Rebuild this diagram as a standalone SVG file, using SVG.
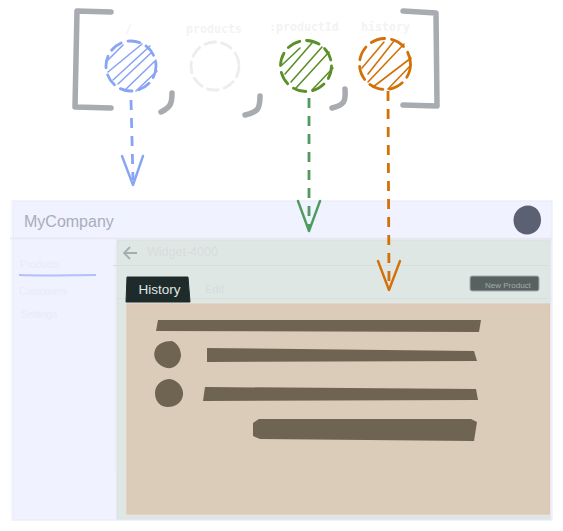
<svg xmlns="http://www.w3.org/2000/svg" width="563" height="531" viewBox="0 0 563 531">
<style>
text{font-family:"Liberation Sans",Arial,sans-serif}
.mono{font-family:"DejaVu Sans Mono","Liberation Mono",monospace;font-size:11.600px;fill:#f3f3f3;font-weight:bold}
.br{fill:none;stroke:#a8abb0;stroke-width:5.500;stroke-linecap:round;stroke-linejoin:round}
.dash{fill:none;stroke-width:2.800;stroke-dasharray:10 8}
.head{fill:none;stroke-width:2.400;stroke-linecap:round;stroke-linejoin:round}
.ring{fill:none;stroke-width:2.800;stroke-linecap:round}
.hatch{fill:none;stroke-width:1.600;stroke-linecap:round}
.blue{stroke:#88a4f4}.green{stroke:#4f9a5e}.lime{stroke:#5b8f2a}.orange{stroke:#d27108}
.nav{font-size:10px;fill:#e8eaf8}
.bar{fill:#6f6351}
</style>
<g id="window">
<rect x="10" y="200" width="542" height="321" fill="#fafafd"/>
<rect x="13" y="201" width="539" height="319" fill="#f0f2ff" stroke="#e8eaf8" stroke-width="1"/>
<path d="M10 238.500H552" stroke="#e6e8f0" stroke-width="1.500"/>
<text x="24" y="226.500" font-size="16" fill="#a9adbb">MyCompany</text>
<path d="M513.500 220C513.500 212 520 205.500 528 205.500C536 205.500 541 212 541 220C541 228 535 234.500 527 234.500C519 234.500 513.500 228 513.500 220Z" fill="#5b6172"/>
</g>
<g id="sidebar">
<path d="M115 245V472" stroke="#eceef8" stroke-width="1.500"/>
<text x="20" y="268" class="nav">Products</text>
<path d="M19 275C45 276 70 275 96 275" stroke="#b4c0f8" stroke-width="2" fill="none"/>
<text x="19" y="295" class="nav">Customers</text>
<text x="21" y="318" class="nav">Settings</text>
</g>
<g id="main">
<rect x="117" y="240" width="433" height="279" fill="#dfe7e5" stroke="#d8e2df"/>
<path d="M113 265.500H548M117 298.500H548" stroke="#d6dfdc" stroke-width="1.200"/>
<path d="M137 253H124M130 247L124 253L130 259" fill="none" stroke="#a6adb0" stroke-width="1.800"/>
<text x="147" y="256" font-size="12.500" fill="#d5dcdc">Widget-4000</text>
<path d="M127 277L188 277L190 302L126 302Z" fill="#1f2a2a" stroke="#1f2a2a"/>
<text x="138.500" y="294" font-size="13.500" fill="#dfe6e6">History</text>
<text x="205" y="293" font-size="11" fill="#d5dcdc">Edit</text>
<rect x="470" y="276" width="69" height="15" rx="2" fill="#566160" stroke="#a4acb0" stroke-width="1"/>
<text x="485" y="288" font-size="8" fill="#a4adad">New Product</text>
</g>
<g id="content">
<rect x="127" y="304" width="422.500" height="210" fill="#dbccb9" stroke="#e6c3ab"/>
<path class="bar" d="M158 320L481 320L479 332L156 331Z"/>
<path class="bar" d="M207 348L474 351L477 361L207 362Z"/>
<path class="bar" d="M205 387L476 389L478 400L203 401Z"/>
<path class="bar" d="M259 419L471 419L477 422L474 441L260 439L253 436L253 423Z"/>
<path class="bar" d="M155 350C157 344 164 341 172 341C179 344 181 351 181 356C180 364 174 369 167 368C158 366 152 358 155 350Z"/>
<path class="bar" d="M155 393C155 385 162 379 170 379C178 380 184 388 183 395C182 403 175 407 168 407C160 407 155 401 155 393Z"/>
</g>
<g id="route-segments">
<g id="seg-root">
<path class="br" d="M111 12L77 11L75 107L111 108"/>
<text x="125" y="33" class="mono">/</text>
<g class="blue">
<circle class="ring" cx="131" cy="66" r="25" stroke-dasharray="12 7"/>
<path class="hatch" d="M108 60L123 45M108 72L142 44M113 80L150 46M118 84L152 52M125 90L156 60M136 91L157 71"/>
</g>
</g>
<g id="seg-products">
<text x="186" y="33" class="mono">products</text>
<circle class="ring" cx="215" cy="66" r="24" stroke="#ededed" stroke-dasharray="11 6"/>
</g>
<g id="seg-productId">
<text x="269" y="31" class="mono">:productId</text>
<g class="lime">
<circle class="ring" cx="306" cy="66" r="25.500" stroke-dasharray="13 7"/>
<path class="hatch" d="M282 65L300 48M285 74L312 43M291 82L322 47M296 88L329 52M312 90L333 68"/>
</g>
</g>
<g id="seg-history">
<text x="361" y="31" class="mono">history</text>
<g class="orange">
<circle class="ring" cx="385" cy="64" r="25.500" stroke-dasharray="14 7"/>
<path class="hatch" d="M362 68L384 42M368 74L394 41M368 82L404 44M373 87L411 58M388 89L411 65"/>
</g>
</g>
<path class="br" d="M172 93C172 103 171 107 161 112"/>
<path class="br" d="M260 96C260 109 258 112 245 115"/>
<path class="br" d="M345 89C346 102 344 105 332 108"/>
<path class="br" d="M403 11L436 13L437 106L403 105"/>
</g>
<g id="connectors">
<path class="dash blue" d="M131 100L133 180"/>
<path class="head blue" d="M122 156L133 185L143 156"/>
<path class="dash green" d="M309 98V228"/>
<path class="head green" d="M298 201L309 231L320 201"/>
<path class="dash orange" d="M388 91L389 286"/>
<path class="head orange" d="M378 261L389 290L400 261"/>
</g>
</svg>
